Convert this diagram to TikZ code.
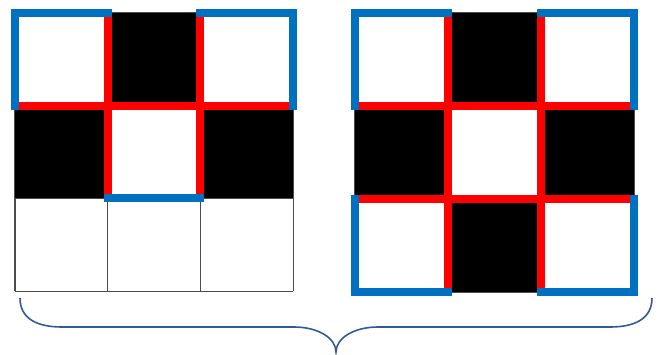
\documentclass[tikz,border=0pt]{standalone}
\usepackage{xcolor}
\definecolor{edgeblue}{RGB}{0,112,192}
\definecolor{edgered}{RGB}{255,0,0}
\definecolor{bracecol}{RGB}{47,90,155}
\begin{document}
\begin{tikzpicture}[
  x=1pt, y=-1pt,
  thinline/.style={draw=black!70, line width=1.2pt},
  blackcell/.style={fill=black},
  redline/.style={draw=edgered, line width=8pt},
  blueline/.style={draw=edgeblue, line width=8pt, line cap=rect, line join=miter},
  bracestyle/.style={draw=bracecol, line width=1.6pt}
]
\useasboundingbox (0,0) rectangle (659,354);

\begin{scope}[shift={(15,13)}, x=92.7pt, y=-92.7pt]
  \foreach \k in {0,...,3} {
    \draw[thinline] (\k,0) -- (\k,3);
    \draw[thinline] (0,\k) -- (3,\k);
  }
  \foreach \cx/\cy in {1/0, 0/1, 2/1}
    \fill[blackcell] (\cx,\cy) rectangle ++(1,1);
  \draw[redline] (1,0) -- (1,2);
  \draw[redline] (2,0) -- (2,2);
  \draw[redline] (0,1) -- (3,1);
  \draw[blueline] (0,1) -- (0,0) -- (1,0);
  \draw[blueline] (2,0) -- (3,0) -- (3,1);
  \draw[blueline] (1,2) -- (2,2);
\end{scope}

\begin{scope}[shift={(355,13)}, x=93pt, y=-93pt]
  \foreach \k in {0,...,3} {
    \draw[thinline] (\k,0) -- (\k,3);
    \draw[thinline] (0,\k) -- (3,\k);
  }
  \foreach \cx/\cy in {1/0, 0/1, 2/1, 1/2}
    \fill[blackcell] (\cx,\cy) rectangle ++(1,1);
  \foreach \k in {1,2} {
    \draw[redline] (\k,0) -- (\k,3);
    \draw[redline] (0,\k) -- (3,\k);
  }
  \draw[blueline] (0,1) -- (0,0) -- (1,0);
  \draw[blueline] (2,0) -- (3,0) -- (3,1);
  \draw[blueline] (0,2) -- (0,3) -- (1,3);
  \draw[blueline] (2,3) -- (3,3) -- (3,2);
\end{scope}

\draw[bracestyle] (20,298) .. controls (20,318) and (36,327) .. (62,327) -- (294,327)
  .. controls (318,327) and (336,338) .. (336,352)
  .. controls (336,338) and (354,327) .. (378,327) -- (610,327)
  .. controls (636,327) and (652,318) .. (652,298);
\end{tikzpicture}
\end{document}
